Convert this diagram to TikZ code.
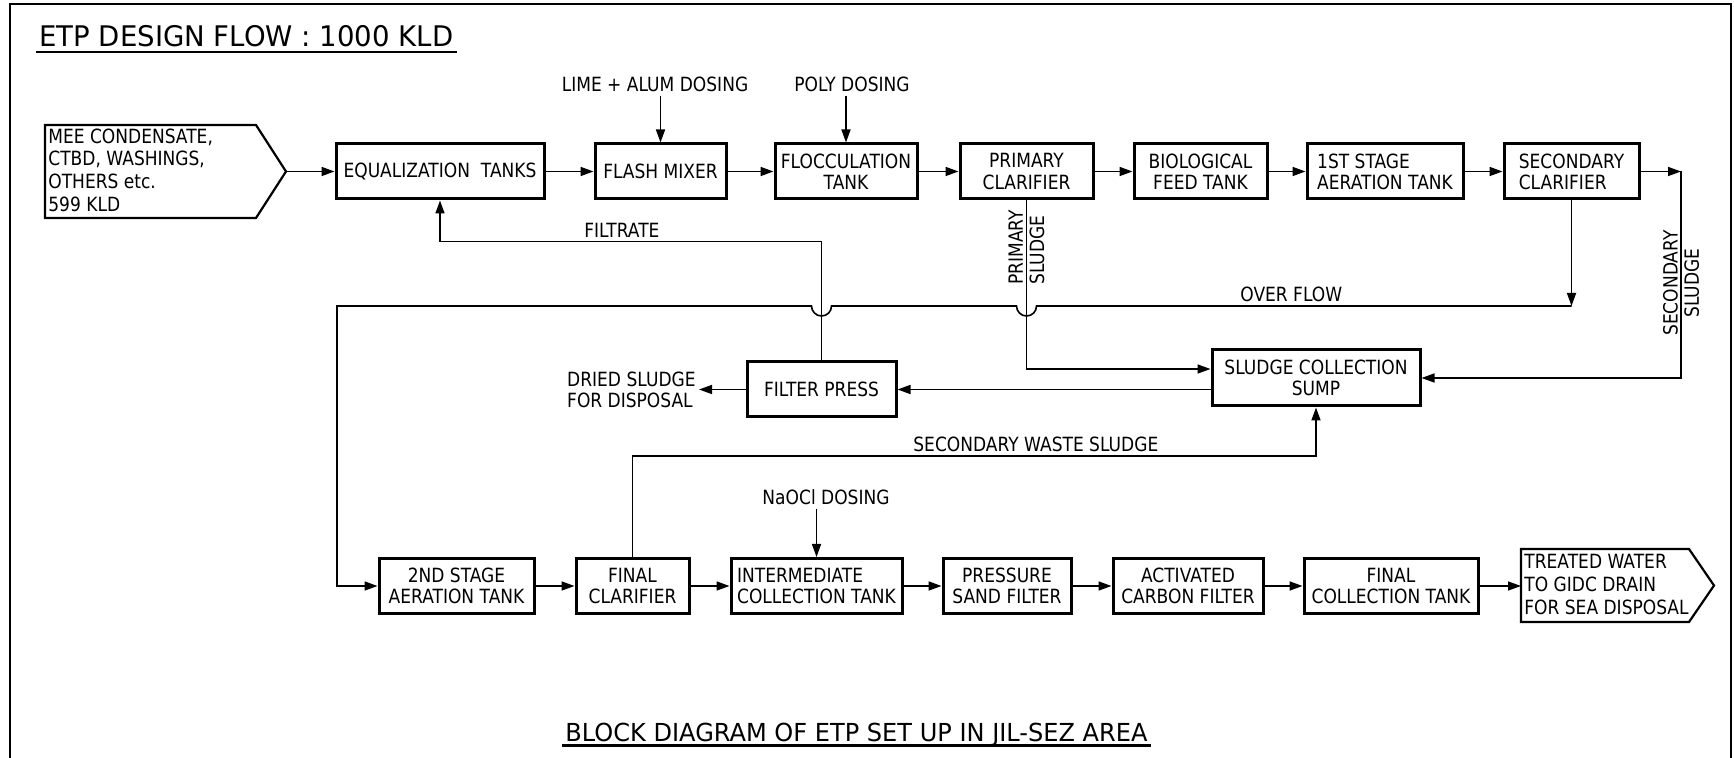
\documentclass[tikz,border=0pt]{standalone}
\usepackage{fontspec}
\setmainfont{DejaVu Sans}[FakeStretch=0.87]
\newfontfamily\ttlfont{DejaVu Sans}[FakeStretch=0.97]
\usetikzlibrary{arrows.meta}
\begin{document}
\begin{tikzpicture}[x=0.5pt, y=-0.5pt,
  >={Triangle[length=6.5pt,width=4.5pt]},
  font=\fontsize{9.8}{10.6}\selectfont,
  tank/.style={draw, line width=1.5pt, minimum width=#1, minimum height=27.5pt, inner sep=0pt, align=center},
  flow/.style={line width=0.8pt},
  lbl/.style={inner sep=1.5pt},
  pent/.style={draw, line width=1.1pt, line join=miter}]
\useasboundingbox (0,0) rectangle (1734,758);
\draw[line width=1pt] (10,758) -- (10,4) -- (1731,4) -- (1731,758);
\node[lbl, anchor=base west, font=\ttlfont\fontsize{14.2}{17}\selectfont] (ttl) at (36,47) {ETP DESIGN FLOW : 1000 KLD};
\draw[line width=1pt] ([yshift=-2.5pt]ttl.base west) -- ([yshift=-2.5pt]ttl.base east);
\node[lbl, anchor=base west, font=\ttlfont\fontsize{12.4}{15}\selectfont] (btl) at (562,741) {BLOCK DIAGRAM OF ETP SET UP IN JIL-SEZ AREA};
\draw[line width=1.1pt] ([yshift=-2.2pt]btl.base west) -- ([yshift=-2.2pt]btl.base east);

\draw[pent] (45,125) -- (256,125) -- (286,171.5) -- (256,218) -- (45,218) -- cycle;
\node[lbl, anchor=west, align=left, font=\fontsize{9.8}{11.3}\selectfont] (src) at (45,170) {MEE CONDENSATE,\\CTBD, WASHINGS,\\OTHERS etc.\\599 KLD};
\coordinate (srctip) at (286,171.5);

\node[tank=104pt] (eq) at (440,171.5) {EQUALIZATION\ \ TANKS};
\node[tank=65.5pt] (flash) at (660.5,171.5) {FLASH MIXER};
\node[tank=71pt] (floc) at (846,171.5) {FLOCCULATION\\TANK};
\node[tank=66.5pt] (prim) at (1026.5,171.5) {PRIMARY\\CLARIFIER};
\node[tank=66.5pt] (bio) at (1200.5,171.5) {BIOLOGICAL\\FEED TANK};
\node[tank=78pt, align=left] (aer1) at (1385,171.5) {1ST STAGE\\AERATION TANK};
\node[tank=67.5pt, align=left] (sec) at (1571.5,171.5) {SECONDARY\\CLARIFIER};

\node[lbl, anchor=base] (lime) at (655,92) {LIME + ALUM DOSING};
\node[lbl, anchor=base] (poly) at (852,92) {POLY DOSING};
\draw[flow,->] (lime.south -| flash.north) -- (flash.north);
\draw[flow,->] (poly.south -| floc.north) -- (floc.north);

\draw[flow,->] (srctip) -- (eq.west);
\foreach \a/\b in {eq/flash,flash/floc,floc/prim,prim/bio,bio/aer1,aer1/sec}{
    \draw[flow,->] (\a) -- (\b);
}

\node[tank=74.5pt] (fpress) at (821.5,389.5) {FILTER PRESS};
\node[tank=104pt, minimum height=28pt] (sump) at (1316,378) {SLUDGE COLLECTION\\SUMP};
\node[lbl, anchor=east, align=left] (dried) at (699,389.5) {DRIED SLUDGE\\FOR DISPOSAL};

\node[tank=77.5pt] (aer2) at (456.5,586) {2ND STAGE\\AERATION TANK};
\node[tank=56.5pt] (fclar) at (632.5,586) {FINAL\\CLARIFIER};
\node[tank=85.5pt, align=left] (icoll) at (816.5,586) {INTERMEDIATE\\COLLECTION TANK};
\node[tank=64pt] (psf) at (1007,586) {PRESSURE\\SAND FILTER};
\node[tank=75pt] (acf) at (1188,586) {ACTIVATED\\CARBON FILTER};
\node[tank=87pt] (fcoll) at (1391,586) {FINAL\\COLLECTION TANK};

\node[lbl, anchor=base] (naocl) at (826,505) {NaOCl DOSING};
\draw[flow,->] (naocl.south -| icoll.north) -- (icoll.north);

\foreach \a/\b in {aer2/fclar,fclar/icoll,icoll/psf,psf/acf,acf/fcoll}{
    \draw[flow,->] (\a) -- (\b);
}

\draw[pent] (1521,549) -- (1689,549) -- (1714,585.5) -- (1689,622) -- (1521,622) -- cycle;
\node[lbl, anchor=west, align=left, font=\fontsize{9.8}{11.3}\selectfont] (out) at (1521,584.5) {TREATED WATER\\TO GIDC DRAIN\\FOR SEA DISPOSAL};
\coordinate (outin) at (1521,586);
\draw[flow,->] (fcoll.east) -- (outin);

\coordinate (ofl) at (1571.5,306);
\coordinate (ssc) at (1681,171.5);
\draw[flow,->] (sec.south) -- (ofl);
\draw[flow,->] (ofl) -- (1036.5,306) arc[start angle=0, end angle=180, radius=10]
    -- (831.5,306) arc[start angle=0, end angle=180, radius=10] -- (337,306) |- (aer2.west);
\node[lbl, anchor=base west] (ovf) at (1237,302) {OVER FLOW};

\draw[flow,->] (sec.east) -- (ssc);
\draw[flow,->] (ssc) |- (sump.east);
\node[lbl, rotate=90, align=center] (ssl) at (1681,283) {SECONDARY\\SLUDGE};

\draw[flow,->] (prim.south) |- ([yshift=4.5pt]sump.west);
\node[lbl, rotate=90, anchor=west, align=left] (psl) at (1026.5,288) {PRIMARY\\SLUDGE};

\draw[flow,->] (sump.west |- fpress.east) -- (fpress.east);
\draw[flow,->] (fpress.west) -- (dried.east);

\draw[flow,->] (fpress.north) -- ++(0,-119) -| (eq.south);
\node[lbl, anchor=base west] (filt) at (581,238) {FILTRATE};

\draw[flow,->] (fclar.north) -- ++(0,-101) -| (sump.south);
\node[lbl, anchor=base west] (swl) at (910,452) {SECONDARY WASTE SLUDGE};
\end{tikzpicture}
\end{document}
